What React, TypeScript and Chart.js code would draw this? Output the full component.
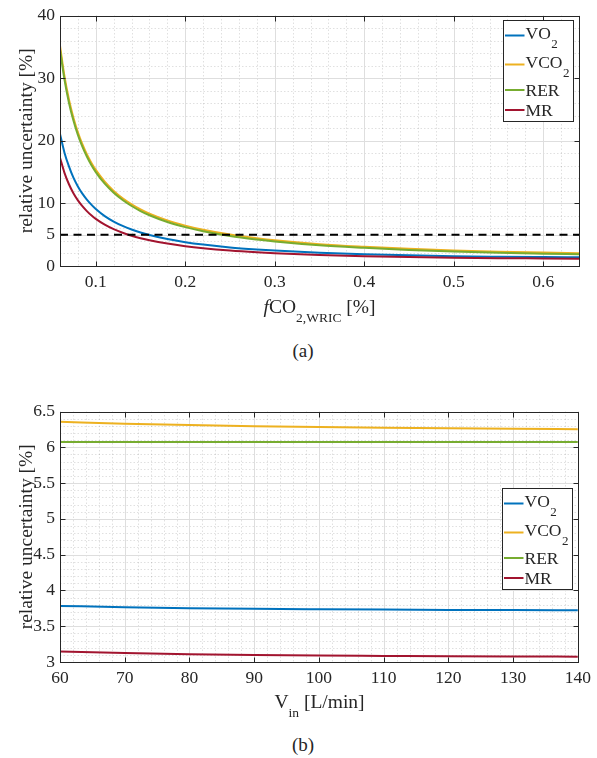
import React, { useEffect, useRef } from "react";
import { Chart, registerables } from "chart.js";

Chart.register(...registerables);

const FONT = "'Liberation Serif', 'Times New Roman', Times, serif";
const TEXT = "#262626";
const BLUE = "#0072BD";
const ORANGE = "#EDB120";
const GREEN = "#77AC30";
const RED = "#A2142F";

// ---------- Panel (a): relative uncertainty vs fCO2,WRIC ----------
const FCO2 = [0.06, 0.065, 0.07, 0.075, 0.08, 0.085, 0.09, 0.095, 0.1, 0.11, 0.12, 0.13, 0.14, 0.15, 0.16, 0.18, 0.2, 0.22, 0.25, 0.28, 0.3, 0.35, 0.4, 0.45, 0.5, 0.55, 0.6, 0.64];
const A_VO2 = [21.1, 18.1, 15.9, 14.1, 12.7, 11.55, 10.6, 9.8, 9.1, 7.97, 7.1, 6.4, 5.83, 5.35, 4.95, 4.3, 3.8, 3.42, 2.97, 2.64, 2.46, 2.12, 1.88, 1.7, 1.56, 1.48, 1.42, 1.38];
const A_VCO2 = [35.2, 30.3, 26.58, 23.68, 21.36, 19.46, 17.86, 16.5, 15.34, 13.46, 11.99, 10.82, 9.86, 9.05, 8.37, 7.28, 6.45, 5.79, 5.02, 4.44, 4.11, 3.49, 3.08, 2.75, 2.47, 2.28, 2.14, 2.05];
const A_RER = [34.6, 29.75, 26.08, 23.22, 20.93, 19.06, 17.48, 16.14, 15.0, 13.14, 11.69, 10.53, 9.58, 8.78, 8.11, 7.03, 6.21, 5.56, 4.8, 4.23, 3.91, 3.3, 2.9, 2.57, 2.3, 2.11, 1.97, 1.87];
const A_MR = [17.3, 14.88, 13.05, 11.62, 10.48, 9.55, 8.76, 8.09, 7.52, 6.6, 5.88, 5.3, 4.83, 4.44, 4.11, 3.58, 3.17, 2.85, 2.48, 2.2, 2.05, 1.76, 1.56, 1.42, 1.32, 1.25, 1.2, 1.16];
const A_THRESHOLD = 5;
const A_X_TICKS = [0.1, 0.2, 0.3, 0.4, 0.5, 0.6];
const A_Y_TICKS = [0, 5, 10, 20, 30, 40];

// ---------- Panel (b): relative uncertainty vs V_in ----------
const VIN = [60, 70, 80, 90, 100, 110, 120, 130, 140];
const B_VO2 = [3.784, 3.765, 3.752, 3.743, 3.737, 3.732, 3.728, 3.725, 3.723];
const B_VCO2 = [6.357, 6.33, 6.31, 6.295, 6.283, 6.273, 6.265, 6.258, 6.252];
const B_RER = [6.074, 6.074, 6.074, 6.074, 6.074, 6.074, 6.074, 6.074, 6.074];
const B_MR = [3.145, 3.125, 3.11, 3.098, 3.09, 3.085, 3.08, 3.077, 3.075];
const B_X_TICKS = [60, 70, 80, 90, 100, 110, 120, 130, 140];
const B_Y_TICKS = [3, 3.5, 4, 4.5, 5, 5.5, 6, 6.5];

const Y_TITLE = "relative uncertainty [%]";

function range(min: number, max: number, step: number) {
  const out: number[] = [];
  const n = Math.round((max - min) / step);
  for (let i = 0; i <= n; i++) out.push(min + i * step);
  return out;
}

const matlabAxes = {
  id: "matlabAxes",
  beforeDatasetsDraw(chart: any, _args: any, opts: any) {
    const { ctx, chartArea: a, scales } = chart;
    const x = scales.x;
    const y = scales.y;
    ctx.save();
    ctx.lineWidth = 1;
    ctx.strokeStyle = "rgba(0,0,0,0.12)";
    ctx.setLineDash([1.5, 2]);
    for (const v of range(x.min, x.max, opts.xMinor)) {
      const p = Math.round(x.getPixelForValue(v)) + 0.5;
      ctx.beginPath();
      ctx.moveTo(p, a.top);
      ctx.lineTo(p, a.bottom);
      ctx.stroke();
    }
    for (const v of range(y.min, y.max, opts.yMinor)) {
      const p = Math.round(y.getPixelForValue(v)) + 0.5;
      ctx.beginPath();
      ctx.moveTo(a.left, p);
      ctx.lineTo(a.right, p);
      ctx.stroke();
    }
    ctx.setLineDash([]);
    ctx.strokeStyle = "#dedede";
    for (const t of x.ticks) {
      const p = Math.round(x.getPixelForValue(t.value)) + 0.5;
      ctx.beginPath();
      ctx.moveTo(p, a.top);
      ctx.lineTo(p, a.bottom);
      ctx.stroke();
    }
    for (const t of y.ticks) {
      const p = Math.round(y.getPixelForValue(t.value)) + 0.5;
      ctx.beginPath();
      ctx.moveTo(a.left, p);
      ctx.lineTo(a.right, p);
      ctx.stroke();
    }
    ctx.restore();
  },
  afterDatasetsDraw(chart: any, _args: any, opts: any) {
    const { ctx, chartArea: a, scales } = chart;
    const x = scales.x;
    const y = scales.y;
    ctx.save();
    ctx.strokeStyle = TEXT;
    ctx.lineWidth = 1;
    const L = Math.round(a.left) + 0.5;
    const R = Math.round(a.right) + 0.5;
    const T = Math.round(a.top) + 0.5;
    const B = Math.round(a.bottom) + 0.5;
    ctx.strokeRect(L, T, R - L, B - T);
    const tl = 5;
    ctx.beginPath();
    for (const t of x.ticks) {
      const p = Math.round(x.getPixelForValue(t.value)) + 0.5;
      ctx.moveTo(p, B);
      ctx.lineTo(p, B - tl);
      ctx.moveTo(p, T);
      ctx.lineTo(p, T + tl);
    }
    for (const t of y.ticks) {
      const p = Math.round(y.getPixelForValue(t.value)) + 0.5;
      ctx.moveTo(L, p);
      ctx.lineTo(L + tl, p);
      ctx.moveTo(R, p);
      ctx.lineTo(R - tl, p);
    }
    ctx.stroke();

    // legend
    const items = chart.data.datasets.filter((d: any) => d.inLegend);
    const bw = 70;
    const bh = 101;
    const bx = Math.round(a.right - 6 - bw) + 0.5;
    const by = Math.round(a.top + opts.legendTop) + 0.5;
    ctx.fillStyle = "#ffffff";
    ctx.fillRect(bx, by, bw, bh);
    ctx.strokeStyle = TEXT;
    ctx.strokeRect(bx, by, bw, bh);
    const lineYs = [15, 44, 69.5, 89.5];
    const baseYs = [18.8, 47.8, 75.8, 95.8];
    items.forEach((d: any, i: number) => {
      ctx.strokeStyle = d.borderColor;
      ctx.lineWidth = 2;
      ctx.beginPath();
      ctx.moveTo(bx + 1.5, by + lineYs[i]);
      ctx.lineTo(bx + 21, by + lineYs[i]);
      ctx.stroke();
      ctx.fillStyle = TEXT;
      ctx.textBaseline = "alphabetic";
      ctx.textAlign = "left";
      ctx.font = `17.5px ${FONT}`;
      const tx = bx + 22;
      ctx.fillText(d.base, tx, by + baseYs[i]);
      if (d.sub) {
        const w = ctx.measureText(d.base).width;
        ctx.font = `13px ${FONT}`;
        ctx.fillText(d.sub, tx + w + 0.5, by + baseYs[i] + 8.5);
      }
    });
    ctx.restore();
  },
};

function makeConfig(
  xs: number[],
  series: { base: string; sub: string; color: string; values: number[]; order: number }[],
  extra: any[],
  xMin: number,
  xMax: number,
  yMin: number,
  yMax: number,
  xTicks: number[],
  yTicks: number[],
  xMinor: number,
  yMinor: number,
  legendTop: number
): any {
  const datasets: any[] = series.map((s) => ({
    label: s.base + s.sub,
    base: s.base,
    sub: s.sub,
    inLegend: true,
    data: xs.map((x, i) => ({ x, y: s.values[i] })),
    borderColor: s.color,
    backgroundColor: s.color,
    borderWidth: 2,
    pointRadius: 0,
    cubicInterpolationMode: "monotone",
    order: s.order,
    fill: false,
  }));
  return {
    type: "line",
    data: { datasets: [...datasets, ...extra] },
    options: {
      animation: false,
      responsive: false,
      devicePixelRatio: 1,
      layout: { padding: { top: 14, right: 18, left: 0, bottom: 0 } },
      plugins: {
        legend: { display: false },
        tooltip: { enabled: false },
        matlabAxes: { xMinor, yMinor, legendTop },
      },
      scales: {
        x: {
          type: "linear",
          min: xMin,
          max: xMax,
          afterBuildTicks: (s: any) => {
            s.ticks = xTicks.map((v) => ({ value: v }));
          },
          afterFit: (s: any) => {
            s.height = 34;
          },
          grid: { display: false, drawTicks: false },
          border: { display: false },
          ticks: {
            font: { family: FONT, size: 17.5 },
            color: TEXT,
            padding: 6,
            maxRotation: 0,
            autoSkip: false,
            callback: (v: any) => String(v),
          },
        },
        y: {
          type: "linear",
          min: yMin,
          max: yMax,
          afterBuildTicks: (s: any) => {
            s.ticks = yTicks.map((v) => ({ value: v }));
          },
          afterFit: (s: any) => {
            s.width = 60;
          },
          grid: { display: false, drawTicks: false },
          border: { display: false },
          ticks: {
            font: { family: FONT, size: 17.5 },
            color: TEXT,
            padding: 5,
            autoSkip: false,
            callback: (v: any) => String(v),
          },
          title: {
            display: true,
            text: Y_TITLE,
            font: { family: FONT, size: 19.5 },
            color: TEXT,
            padding: { top: 15, bottom: 0 },
          },
        },
      },
    },
    plugins: [matlabAxes],
  };
}

export default function App() {
  const topRef = useRef<HTMLCanvasElement | null>(null);
  const botRef = useRef<HTMLCanvasElement | null>(null);

  useEffect(() => {
    const threshold = {
      label: "5 % limit",
      inLegend: false,
      data: [
        { x: FCO2[0], y: A_THRESHOLD },
        { x: FCO2[FCO2.length - 1], y: A_THRESHOLD },
      ],
      borderColor: "#000000",
      borderWidth: 2,
      borderDash: [8, 5.5],
      pointRadius: 0,
      order: 0,
    };
    const top = new Chart(
      topRef.current as HTMLCanvasElement,
      makeConfig(
        FCO2,
        [
          { base: "VO", sub: "2", color: BLUE, values: A_VO2, order: 4 },
          { base: "VCO", sub: "2", color: ORANGE, values: A_VCO2, order: 3 },
          { base: "RER", sub: "", color: GREEN, values: A_RER, order: 2 },
          { base: "MR", sub: "", color: RED, values: A_MR, order: 1 },
        ],
        [threshold],
        0.06,
        0.64,
        0,
        40,
        A_X_TICKS,
        A_Y_TICKS,
        0.02,
        2,
        4.3
      )
    );
    const bot = new Chart(
      botRef.current as HTMLCanvasElement,
      makeConfig(
        VIN,
        [
          { base: "VO", sub: "2", color: BLUE, values: B_VO2, order: 4 },
          { base: "VCO", sub: "2", color: ORANGE, values: B_VCO2, order: 3 },
          { base: "RER", sub: "", color: GREEN, values: B_RER, order: 2 },
          { base: "MR", sub: "", color: RED, values: B_MR, order: 1 },
        ],
        [],
        60,
        140,
        3,
        6.5,
        B_X_TICKS,
        B_Y_TICKS,
        2,
        0.1,
        76
      )
    );
    return () => {
      top.destroy();
      bot.destroy();
    };
  }, []);

  const titleStyle: React.CSSProperties = {
    position: "absolute",
    left: 60,
    width: 519,
    textAlign: "center",
    fontSize: 19.5,
    lineHeight: 1,
    whiteSpace: "nowrap",
  };
  const subStyle: React.CSSProperties = { fontSize: 13.5, verticalAlign: "-9px" };
  const captionStyle: React.CSSProperties = {
    position: "absolute",
    left: 0,
    width: 606,
    textAlign: "center",
    fontSize: 19,
    lineHeight: 1,
  };

  return (
    <div
      style={{
        position: "absolute",
        left: 0,
        top: 0,
        width: 597,
        height: 758,
        background: "#ffffff",
        fontFamily: FONT,
        color: TEXT,
        overflow: "hidden",
      }}
    >
      <canvas ref={topRef} width={597} height={300} style={{ position: "absolute", left: 0, top: 0, width: 597, height: 300 }} />
      <div style={{ ...titleStyle, top: 296.7 }}>
        <i>f</i>CO<span style={subStyle}>2,WRIC</span> [%]
      </div>
      <div style={{ ...captionStyle, top: 340.7 }}>(a)</div>
      <canvas ref={botRef} width={597} height={300} style={{ position: "absolute", left: 0, top: 396, width: 597, height: 300 }} />
      <div style={{ ...titleStyle, top: 691.7 }}>
        V<span style={subStyle}>in</span> [L/min]
      </div>
      <div style={{ ...captionStyle, top: 734.7 }}>(b)</div>
    </div>
  );
}
